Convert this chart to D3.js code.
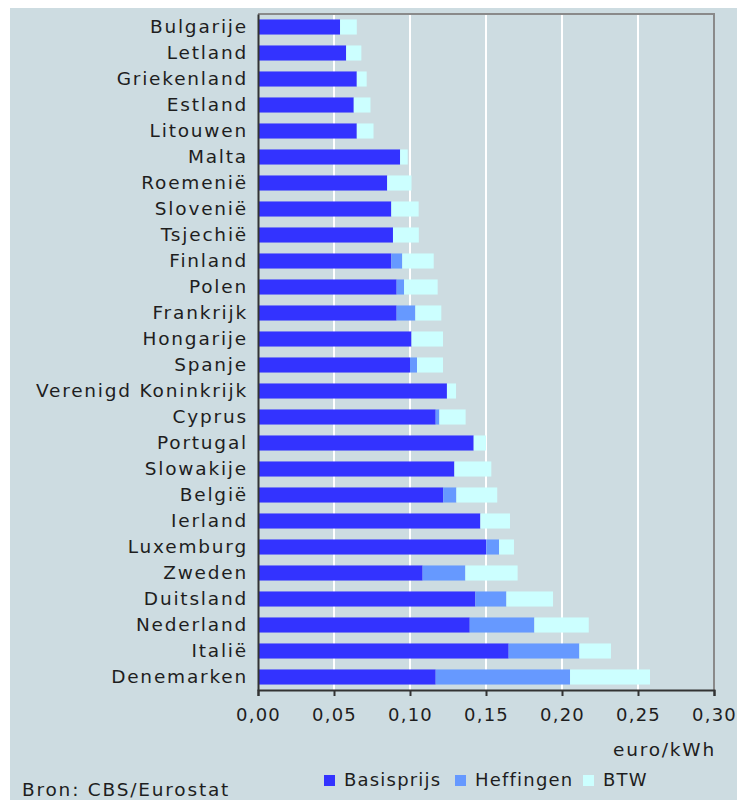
<!DOCTYPE html>
<html><head><meta charset="utf-8">
<script src="https://cdn.jsdelivr.net/npm/d3@7"></script>
<style>
html,body{margin:0;padding:0;background:#fff;}
svg{display:block;}
text{font-family:"DejaVu Sans",Verdana,sans-serif;fill:#1e1e1e;}
</style></head>
<body>
<script>
const countries = ["Bulgarije","Letland","Griekenland","Estland","Litouwen","Malta","Roemenië","Slovenië","Tsjechië","Finland","Polen","Frankrijk","Hongarije","Spanje","Verenigd Koninkrijk","Cyprus","Portugal","Slowakije","België","Ierland","Luxemburg","Zweden","Duitsland","Nederland","Italië","Denemarken"];
const basisprijs = [0.054,0.058,0.065,0.063,0.065,0.0935,0.085,0.0877,0.0888,0.0877,0.0912,0.0912,0.101,0.100,0.1243,0.1169,0.1419,0.1292,0.1219,0.1463,0.1502,0.1083,0.143,0.1393,0.1649,0.1169];
const heffingen  = [0,0,0,0,0,0,0,0,0,0.0072,0.0049,0.0123,0,0.0046,0,0.0024,0,0,0.0086,0,0.0084,0.0281,0.0204,0.0425,0.0465,0.0884];
const btw        = [0.011,0.010,0.0065,0.011,0.011,0.005,0.016,0.018,0.017,0.0207,0.0221,0.0171,0.0207,0.0171,0.006,0.0173,0.0081,0.0243,0.0269,0.0195,0.0098,0.0344,0.0307,0.0358,0.0208,0.0526];
const seriesNames = ["Basisprijs","Heffingen","BTW"];
const seriesColors = ["#3333ff","#6699ff","#ccffff"];
const xTicks = [0,0.05,0.10,0.15,0.20,0.25,0.30];
const unitLabel = "euro/kWh";
const sourceLabel = "Bron: CBS/Eurostat";

(function(){
const W = 737, H = 800;
const FS = 18.5, LS = "1.8px";
const svg = d3.select("body").append("svg").attr("width", W).attr("height", H);
svg.append("rect").attr("x",10).attr("y",8).attr("width",W-10).attr("height",H-8).attr("fill","#cddce1");

const pL = 258, pR = 714, pT = 14, pB = 690;
const x = d3.scaleLinear().domain([0,0.30]).range([pL,pR]);
const y = d3.scaleBand().domain(countries).range([pT,pB]).paddingInner(0.42).paddingOuter(0.21);

// gridlines
svg.append("g").selectAll("line").data(xTicks.slice(1,-1)).join("line")
  .attr("x1",d=>x(d)).attr("x2",d=>x(d)).attr("y1",pT).attr("y2",pB)
  .attr("stroke","#ffffff").attr("stroke-width",2);

// frame top & right
svg.append("path").attr("d",`M${pL},${pT}H${pR}V${pB}`).attr("fill","none")
  .attr("stroke","#8a8a8a").attr("stroke-width",2);

// stacked data
const table = countries.map((c,i)=>({country:c, Basisprijs:basisprijs[i], Heffingen:heffingen[i], BTW:btw[i]}));
const stack = d3.stack().keys(seriesNames)(table);
const color = d3.scaleOrdinal().domain(seriesNames).range(seriesColors);

svg.append("g").selectAll("g").data(stack).join("g").attr("fill",d=>color(d.key))
  .selectAll("rect").data(d=>d).join("rect")
  .attr("x",d=>x(d[0])).attr("width",d=>Math.max(0,x(d[1])-x(d[0])))
  .attr("y",d=>y(d.data.country)).attr("height",y.bandwidth());

// x axis
const xAxis = d3.axisBottom(x).tickValues(xTicks).tickSize(6).tickPadding(12)
  .tickFormat(d=>d3.format(".2f")(d).replace(".",","));
const gx = svg.append("g").attr("transform",`translate(0,${pB})`).call(xAxis);
gx.select(".domain").attr("stroke","#333").attr("stroke-width",2);
gx.selectAll(".tick line").attr("stroke","#333").attr("stroke-width",2);
gx.selectAll(".tick text").attr("font-size",18).attr("letter-spacing","1.2px")
  .attr("font-family","DejaVu Sans").attr("fill","#1e1e1e");

// y axis
const yAxis = d3.axisLeft(y).tickSize(0).tickPadding(10);
const gy = svg.append("g").attr("transform",`translate(${pL},0)`).call(yAxis);
gy.select(".domain").attr("stroke","#333").attr("stroke-width",2);
gy.selectAll(".tick text").attr("font-size",FS).attr("letter-spacing",LS)
  .attr("font-family","DejaVu Sans").attr("fill","#1e1e1e");

// unit label
svg.append("text").attr("x",716).attr("y",756).attr("text-anchor","end")
  .attr("font-size",FS).attr("letter-spacing",LS).text(unitLabel);

// legend
const legendX = [324,455,583];
const lg = svg.append("g");
seriesNames.forEach((n,i)=>{
  lg.append("rect").attr("x",legendX[i]).attr("y",775).attr("width",11).attr("height",11).attr("fill",seriesColors[i]);
  lg.append("text").attr("x",legendX[i]+20).attr("y",786).attr("font-size",18).attr("letter-spacing","1.2px").text(n);
});

// source
svg.append("text").attr("x",22).attr("y",796).attr("font-size",FS).attr("letter-spacing",LS).text(sourceLabel);
})();
</script>
</body></html>
